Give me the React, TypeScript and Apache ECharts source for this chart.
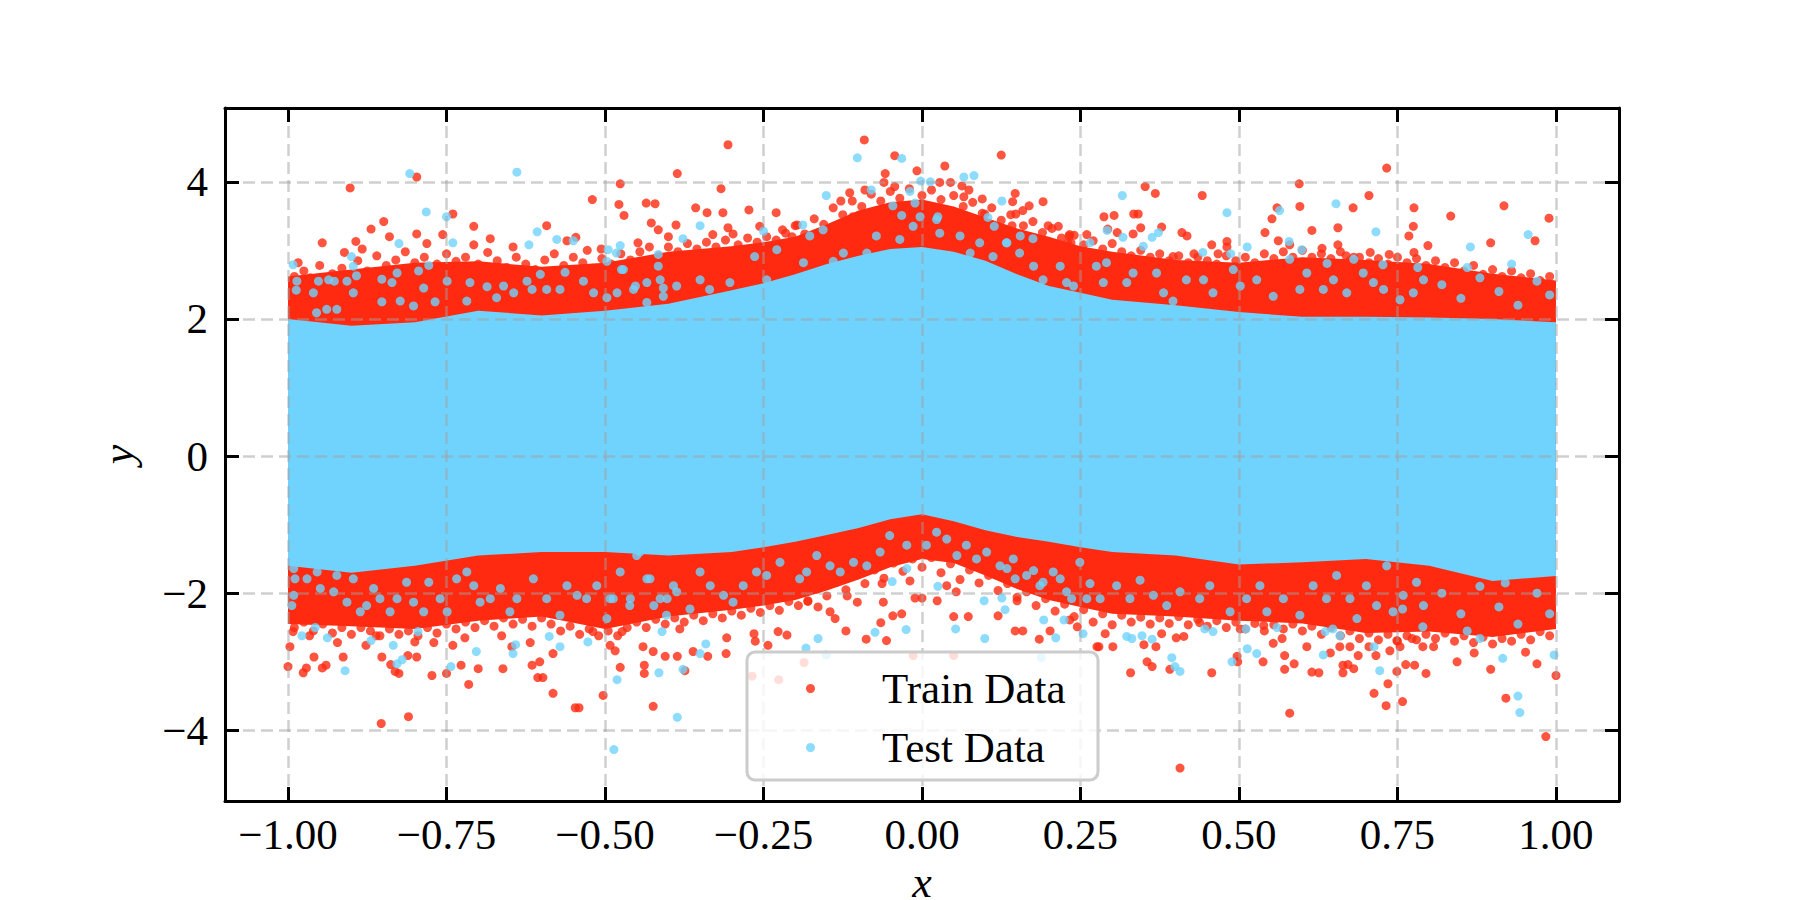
import { useEffect, useRef } from "react";
import * as echarts from "echarts";

const RED = "#ff2a10";
const BLUE = "#70d3fd";
const FONT = "Liberation Serif, Times New Roman, serif";

const xTicks = [-1, -0.75, -0.5, -0.25, 0, 0.25, 0.5, 0.75, 1];
const yTicks = [-4, -2, 0, 2, 4];

// envelopes of the dense cloud, read along x
const bandX = [-1, -0.9, -0.8, -0.7, -0.6, -0.5, -0.4, -0.3, -0.25, -0.2, -0.15, -0.1, -0.05, 0, 0.05, 0.1, 0.15, 0.2, 0.25, 0.3, 0.4, 0.5, 0.6, 0.7, 0.8, 0.9, 1];
const trainTop = [2.62, 2.72, 2.82, 2.84, 2.76, 2.82, 2.98, 3.06, 3.12, 3.2, 3.38, 3.58, 3.7, 3.74, 3.64, 3.48, 3.32, 3.2, 3.06, 2.98, 2.86, 2.82, 2.9, 2.86, 2.8, 2.66, 2.56];
const trainBottom = [-2.45, -2.48, -2.52, -2.4, -2.34, -2.52, -2.34, -2.24, -2.18, -2.1, -1.96, -1.8, -1.62, -1.5, -1.56, -1.74, -1.94, -2.1, -2.2, -2.3, -2.34, -2.4, -2.44, -2.58, -2.56, -2.64, -2.52];
const testTop = [2.0, 1.9, 1.95, 2.12, 2.05, 2.12, 2.22, 2.42, 2.52, 2.65, 2.8, 2.92, 3.02, 3.05, 2.98, 2.85, 2.65, 2.48, 2.38, 2.28, 2.2, 2.1, 2.03, 2.03, 2.02, 2.0, 1.95];
const testBottom = [-1.6, -1.7, -1.6, -1.45, -1.4, -1.4, -1.45, -1.4, -1.33, -1.25, -1.15, -1.05, -0.92, -0.85, -0.95, -1.08, -1.18, -1.25, -1.33, -1.4, -1.45, -1.58, -1.55, -1.5, -1.6, -1.82, -1.75];

// train points outside the dense band
const trainAbove = [
  [-0.902, 3.91], [-0.797, 4.07], [-0.74, 3.53], [-0.52, 3.74], [-0.476, 3.97], [-0.478, 3.67], [-0.47, 3.51],
  [-0.435, 3.69], [-0.421, 3.68], [-0.427, 3.4], [-0.416, 3.3], [-0.386, 4.12], [-0.388, 3.37], [-0.4, 3.2],
  [-0.869, 3.31], [-0.849, 3.42], [-0.84, 3.2], [-0.946, 3.11], [-0.893, 3.13], [-0.883, 3.02], [-0.911, 2.97],
  [-0.797, 3.24], [-0.781, 3.1], [-0.756, 3.23], [-0.707, 3.35], [-0.592, 3.36], [-0.546, 3.19], [-0.56, 3.14],
  [-0.681, 3.17], [-0.707, 3.08], [-0.645, 3.05], [-0.528, 3.0], [-0.506, 3.02], [-0.448, 3.11], [-0.984, 2.82],
  [-0.306, 4.54], [-0.317, 3.9], [-0.357, 3.62], [-0.339, 3.55], [-0.314, 3.55], [-0.273, 3.59], [-0.306, 3.33],
  [-0.298, 3.24], [-0.33, 3.23], [-0.23, 3.55], [-0.256, 3.35], [-0.22, 3.3], [-0.197, 3.37], [-0.205, 3.2],
  [-0.091, 4.61], [-0.043, 4.38], [-0.058, 4.12], [-0.008, 4.16], [0.036, 4.23], [0.125, 4.39], [-0.06, 3.99],
  [-0.043, 3.93], [-0.09, 3.88], [-0.114, 3.84], [-0.128, 3.72], [0.028, 3.99], [0.045, 3.99], [0.063, 3.94],
  [0.074, 3.88], [0.066, 3.78], [0.095, 3.75], [0.147, 3.83], [0.143, 3.71], [0.191, 3.71], [0.169, 3.65],
  [0.148, 3.53], [0.159, 3.58], [0.142, 3.36], [0.199, 3.36], [0.215, 3.35], [0.233, 3.23], [0.26, 3.23],
  [0.235, 3.11], [0.099, 3.53], [-0.109, 3.49], [-0.14, 3.27], [-0.131, 3.3], [-0.161, 3.05], [0.159, 3.16],
  [0.733, 4.2], [0.595, 3.97], [0.596, 3.64], [0.352, 3.93], [0.368, 3.83], [0.442, 3.8], [0.705, 3.8],
  [0.68, 3.62], [0.776, 3.62], [0.287, 3.49], [0.303, 3.51], [0.334, 3.53], [0.341, 3.53], [0.345, 3.33],
  [0.232, 3.21], [0.293, 3.31], [0.308, 3.26], [0.333, 3.24], [0.378, 3.34], [0.41, 3.26], [0.418, 3.21],
  [0.457, 3.08], [0.481, 3.13], [0.481, 3.05], [0.541, 3.26], [0.552, 3.46], [0.56, 3.62], [0.615, 3.29],
  [0.656, 3.33], [0.656, 3.08], [0.631, 3.03], [0.562, 3.14], [0.58, 3.08], [0.768, 3.21], [0.776, 2.97],
  [0.798, 3.07], [0.707, 2.97], [0.681, 2.9], [0.669, 2.92], [0.737, 2.94], [0.429, 2.95], [0.467, 2.95],
  [0.396, 2.91], [0.23, 3.11], [0.834, 3.5], [0.918, 3.65], [0.967, 3.14], [0.989, 3.47], [0.775, 3.35],
  [0.897, 3.11],
];
const trainBelow = [
  [-1.0, -3.07], [-0.997, -2.78], [-0.992, -2.56], [-0.976, -3.16], [-0.971, -3.09], [-0.959, -2.93],
  [-0.966, -2.62], [-0.946, -3.09], [-0.94, -3.05], [-0.922, -2.72], [-0.913, -2.93], [-0.877, -2.76],
  [-0.861, -2.62], [-0.852, -2.93], [-0.838, -3.04], [-0.831, -3.14], [-0.825, -3.17], [-0.811, -2.91],
  [-0.797, -2.93], [-0.8, -2.71], [-0.773, -3.2], [-0.77, -2.72], [-0.75, -3.17], [-0.74, -2.76],
  [-0.727, -3.05], [-0.715, -3.33], [-0.7, -3.1], [-0.721, -2.65], [-0.663, -2.62], [-0.661, -3.1],
  [-0.647, -2.78], [-0.618, -2.72], [-0.615, -3.05], [-0.603, -3.0], [-0.606, -3.23], [-0.598, -3.23],
  [-0.582, -3.46], [-0.582, -2.88], [-0.547, -3.67], [-0.541, -3.67], [-0.519, -2.56], [-0.503, -3.49],
  [-0.492, -2.76], [-0.484, -2.84], [-0.476, -3.08], [-0.44, -2.78], [-0.438, -3.05], [-0.438, -3.17],
  [-0.424, -2.85], [-0.405, -2.92], [-0.386, -2.92], [-0.424, -3.65], [-0.473, -2.56], [-0.853, -3.9],
  [-0.81, -3.8], [-0.374, -3.13], [-0.338, -2.92], [-0.309, -2.88], [-0.308, -2.65], [-0.361, -2.85],
  [-0.382, -2.52], [-0.265, -2.59], [-0.263, -2.7], [-0.227, -2.56], [-0.213, -2.61], [-0.243, -2.76],
  [-0.12, -2.55], [-0.088, -2.67], [-0.065, -2.43], [-0.056, -2.69], [-0.032, -2.3], [-0.019, -1.82],
  [-0.063, -1.86], [0.0, -2.07], [0.024, -2.11], [0.05, -2.34], [0.073, -2.34], [0.12, -2.33], [0.15, -2.11],
  [0.147, -2.55], [0.159, -2.55], [0.185, -2.67], [0.202, -2.55], [0.233, -2.39], [0.245, -2.49],
  [0.276, -2.78], [0.054, -1.98], [0.039, -1.89], [-0.18, -2.11], [-0.164, -2.2], [-0.145, -2.27],
  [-0.137, -2.37], [-0.118, -2.04], [-0.102, -2.13], [-0.061, -2.13], [-0.046, -2.33], [-0.011, -2.07],
  [-0.186, -3.01], [-0.268, -3.21], [-0.226, -3.26], [-0.014, -2.91], [0.05, -2.91], [0.279, -2.78],
  [0.289, -2.59], [0.301, -2.78], [0.329, -3.16], [0.355, -3.0], [0.363, -3.07], [0.35, -2.75], [0.369, -2.78],
  [0.391, -3.11], [0.378, -2.59], [0.401, -2.65], [0.413, -2.63], [0.457, -3.16], [0.438, -2.43],
  [0.497, -2.92], [0.538, -3.0], [0.502, -2.52], [0.539, -2.47], [0.554, -2.73], [0.568, -2.66],
  [0.572, -2.91], [0.587, -3.03], [0.572, -3.11], [0.607, -2.78], [0.615, -3.15], [0.626, -3.16],
  [0.644, -2.87], [0.659, -2.78], [0.675, -2.78], [0.664, -3.05], [0.672, -3.04], [0.681, -3.1],
  [0.688, -2.91], [0.664, -3.16], [0.705, -2.78], [0.716, -2.91], [0.713, -3.46], [0.735, -3.32],
  [0.732, -3.64], [0.749, -3.14], [0.758, -3.58], [0.763, -3.04], [0.777, -3.05], [0.738, -2.84],
  [0.754, -2.78], [0.795, -3.17], [0.79, -2.78], [0.773, -2.66], [0.749, -2.69], [0.407, -4.55],
  [0.58, -3.75], [0.498, -3.0], [0.921, -3.53], [0.984, -4.09], [1.0, -3.2], [0.97, -3.03], [0.844, -3.0],
  [0.897, -3.11], [0.871, -2.87], [0.952, -2.86], [0.807, -2.78],
];
// dense train dots along the outer rim of the band
const trainRimTop = [
  [-0.99, 2.62], [-0.975, 2.7], [-0.965, 2.6], [-0.95, 2.78], [-0.93, 2.66], [-0.915, 2.74], [-0.89, 2.85],
  [-0.875, 2.7], [-0.86, 2.92], [-0.845, 2.78], [-0.83, 2.86], [-0.815, 2.98], [-0.8, 2.82], [-0.785, 2.9],
  [-0.765, 2.8], [-0.75, 2.95], [-0.735, 2.84], [-0.72, 2.9], [-0.7, 2.8], [-0.685, 2.97], [-0.67, 2.85],
  [-0.655, 2.75], [-0.64, 2.9], [-0.625, 2.8], [-0.61, 2.72], [-0.595, 2.86], [-0.58, 2.95], [-0.565, 2.78],
  [-0.55, 2.9], [-0.535, 2.82], [-0.52, 2.74], [-0.505, 2.88], [-0.49, 2.8], [-0.475, 2.95], [-0.46, 2.86],
  [-0.445, 2.98], [-0.43, 3.05], [-0.415, 2.92], [-0.4, 3.05], [-0.385, 2.98], [-0.37, 3.1], [-0.355, 3.02],
  [-0.34, 3.12], [-0.325, 3.05], [-0.31, 3.15], [-0.29, 3.08], [-0.275, 3.18], [-0.26, 3.12], [-0.245, 3.2],
  [-0.23, 3.15], [-0.215, 3.25], [-0.2, 3.36], [-0.185, 3.24], [-0.17, 3.46], [-0.155, 3.38], [-0.14, 3.62],
  [-0.125, 3.52], [-0.11, 3.72], [-0.095, 3.64], [-0.08, 3.82], [-0.065, 3.72], [-0.05, 3.86], [-0.035, 3.76],
  [-0.02, 3.9], [0.0, 3.8], [0.015, 3.88], [0.03, 3.74], [0.05, 3.8], [0.065, 3.64], [0.08, 3.7], [0.095, 3.54],
  [0.11, 3.62], [0.125, 3.44], [0.14, 3.52], [0.16, 3.36], [0.175, 3.42], [0.19, 3.26], [0.205, 3.32], [0.22, 3.18],
  [0.24, 3.22], [0.255, 3.08], [0.27, 3.14], [0.285, 3.02], [0.3, 3.1], [0.315, 2.98], [0.33, 2.92], [0.345, 3.0],
  [0.36, 2.9], [0.375, 2.95], [0.39, 2.85], [0.405, 2.92], [0.42, 2.82], [0.435, 2.9], [0.45, 2.85], [0.465, 2.8],
  [0.48, 2.92], [0.495, 2.85], [0.51, 2.9], [0.525, 2.82], [0.54, 2.95], [0.555, 2.88], [0.57, 2.98], [0.585, 2.9],
  [0.6, 3.0], [0.615, 2.9], [0.63, 2.95], [0.645, 2.88], [0.66, 2.98], [0.675, 2.85], [0.69, 2.9], [0.705, 2.82],
  [0.72, 2.88], [0.735, 2.8], [0.75, 2.9], [0.765, 2.82], [0.78, 2.88], [0.795, 2.78], [0.81, 2.85], [0.825, 2.75],
  [0.84, 2.82], [0.855, 2.7], [0.87, 2.78], [0.885, 2.65], [0.9, 2.72], [0.915, 2.62], [0.93, 2.7], [0.945, 2.6],
  [0.96, 2.66], [0.975, 2.56], [0.99, 2.62],
];
const trainRimBottom = [
  [-0.99, -2.5], [-0.975, -2.42], [-0.96, -2.55], [-0.945, -2.45], [-0.93, -2.58], [-0.915, -2.5], [-0.9, -2.6],
  [-0.885, -2.5], [-0.87, -2.55], [-0.855, -2.62], [-0.84, -2.52], [-0.825, -2.6], [-0.81, -2.55], [-0.795, -2.62],
  [-0.78, -2.5], [-0.765, -2.58], [-0.75, -2.45], [-0.735, -2.52], [-0.72, -2.42], [-0.705, -2.5], [-0.69, -2.4],
  [-0.675, -2.48], [-0.66, -2.36], [-0.645, -2.45], [-0.63, -2.38], [-0.615, -2.48], [-0.6, -2.36], [-0.585, -2.45],
  [-0.57, -2.55], [-0.555, -2.48], [-0.54, -2.6], [-0.525, -2.52], [-0.51, -2.62], [-0.495, -2.55], [-0.48, -2.62],
  [-0.465, -2.5], [-0.45, -2.42], [-0.435, -2.5], [-0.42, -2.38], [-0.405, -2.45], [-0.39, -2.36], [-0.375, -2.42],
  [-0.36, -2.32], [-0.345, -2.4], [-0.33, -2.3], [-0.315, -2.36], [-0.3, -2.26], [-0.285, -2.32], [-0.27, -2.22],
  [-0.255, -2.28], [-0.24, -2.18], [-0.225, -2.25], [-0.21, -2.12], [-0.195, -2.18], [-0.18, -2.12], [-0.165, -1.94],
  [-0.15, -2.04], [-0.135, -1.84], [-0.12, -1.95], [-0.105, -1.74], [-0.09, -1.86], [-0.075, -1.66], [-0.06, -1.78],
  [-0.045, -1.56], [-0.03, -1.68], [-0.015, -1.5], [0.0, -1.62], [0.015, -1.48], [0.03, -1.7], [0.045, -1.57],
  [0.06, -1.8], [0.075, -1.66], [0.09, -1.85], [0.105, -1.74], [0.12, -1.96], [0.135, -1.86], [0.15, -2.06],
  [0.165, -1.98], [0.18, -2.18], [0.195, -2.08], [0.21, -2.26], [0.225, -2.16], [0.24, -2.34], [0.255, -2.24],
  [0.27, -2.42], [0.285, -2.3], [0.3, -2.46], [0.315, -2.32], [0.33, -2.42], [0.345, -2.35], [0.36, -2.45],
  [0.375, -2.36], [0.39, -2.44], [0.405, -2.34], [0.42, -2.46], [0.435, -2.38], [0.45, -2.48], [0.465, -2.4],
  [0.48, -2.5], [0.495, -2.42], [0.51, -2.52], [0.525, -2.44], [0.54, -2.55], [0.555, -2.46], [0.57, -2.52],
  [0.585, -2.45], [0.6, -2.55], [0.615, -2.48], [0.63, -2.6], [0.645, -2.5], [0.66, -2.62], [0.675, -2.55],
  [0.69, -2.66], [0.705, -2.58], [0.72, -2.68], [0.735, -2.6], [0.75, -2.7], [0.765, -2.62], [0.78, -2.68],
  [0.795, -2.6], [0.81, -2.66], [0.825, -2.58], [0.84, -2.7], [0.855, -2.62], [0.87, -2.72], [0.885, -2.64],
  [0.9, -2.74], [0.915, -2.66], [0.93, -2.7], [0.945, -2.6], [0.96, -2.68], [0.975, -2.56], [0.99, -2.62],
];

// test points outside the band and inside the mixed red/blue rim
const testOutside = [
  [-0.808, 4.12], [-0.639, 4.14], [-0.782, 3.56], [-0.75, 3.49], [-0.74, 3.11], [-0.825, 3.1], [-0.9, 2.91],
  [-0.607, 3.27], [-0.62, 3.08], [-0.576, 3.16], [-0.55, 3.14], [-0.416, 2.94], [-0.476, 3.07], [-0.992, 2.79],
  [-0.495, 3.01], [-0.102, 4.35], [-0.032, 4.34], [0.082, 4.09], [0.066, 4.07], [0.013, 4.0], [-0.002, 4.01],
  [-0.151, 3.8], [-0.08, 3.88], [0.126, 3.72], [-0.35, 3.36], [-0.156, 3.3], [-0.188, 3.37], [0.175, 3.17],
  [0.114, 3.35], [0.104, 3.48], [-0.377, 3.17], [-0.019, 3.86], [-0.046, 3.65], [-0.011, 3.69], [-0.032, 3.51],
  [-0.003, 3.49], [0.025, 3.49], [0.316, 3.8], [0.481, 3.55], [0.564, 3.58], [0.653, 3.68], [0.716, 3.27],
  [0.513, 3.05], [0.292, 3.29], [0.363, 3.19], [0.373, 3.26], [0.317, 3.19], [0.681, 2.87], [0.579, 3.13],
  [0.599, 3.01], [0.782, 2.75], [0.443, 2.97], [0.487, 2.95], [0.639, 2.81], [0.727, 2.79], [0.956, 3.23],
  [0.865, 3.05], [-0.978, -2.62], [-0.957, -2.5], [-0.938, -2.65], [-0.91, -3.13], [-0.869, -2.69],
  [-0.834, -2.76], [-0.828, -3.03], [-0.82, -2.97], [-0.795, -2.56], [-0.743, -3.07], [-0.703, -2.85],
  [-0.645, -2.88], [-0.641, -2.75], [-0.571, -2.78], [-0.588, -2.63], [-0.527, -2.71], [-0.481, -3.26],
  [-0.415, -3.16], [-0.41, -2.56], [-0.486, -4.28], [-0.386, -3.81], [-0.377, -3.11], [-0.35, -2.88],
  [-0.341, -2.74], [-0.183, -2.8], [-0.164, -2.66], [-0.074, -2.57], [-0.025, -2.53], [-0.047, -1.83],
  [-0.024, -1.64], [0.025, -1.9], [0.053, -2.52], [0.099, -2.66], [0.098, -2.11], [0.126, -2.07],
  [0.131, -2.24], [0.192, -2.39], [0.211, -2.65], [0.224, -2.39], [0.254, -2.59], [-0.151, -2.9],
  [0.188, -2.94], [0.323, -2.63], [0.331, -2.66], [0.347, -2.62], [0.363, -2.67], [0.394, -2.94],
  [0.399, -3.07], [0.407, -3.14], [0.446, -2.52], [0.459, -2.56], [0.489, -3.0], [0.513, -2.81],
  [0.528, -2.88], [0.511, -2.52], [0.56, -2.5], [0.633, -2.9], [0.636, -2.56], [0.648, -2.52], [0.659, -2.62],
  [0.713, -2.78], [0.722, -3.13], [0.79, -2.49], [0.758, -2.23], [0.94, -3.5], [0.943, -3.74], [0.997, -2.9],
  [0.916, -2.95], [0.88, -2.66],
];
const testRimTop = [
  [-0.986, 2.55], [-0.987, 2.42], [-0.96, 2.38], [-0.952, 2.55], [-0.936, 2.57], [-0.927, 2.55], [-0.955, 2.09],
  [-0.939, 2.14], [-0.923, 2.14], [-0.907, 2.55], [-0.897, 2.38], [-0.892, 2.63], [-0.897, 2.77], [-0.852, 2.58],
  [-0.836, 2.53], [-0.852, 2.25], [-0.828, 2.67], [-0.823, 2.26], [-0.802, 2.19], [-0.778, 2.78], [-0.794, 2.7],
  [-0.786, 2.45], [-0.768, 2.25], [-0.749, 2.55], [-0.718, 2.26], [-0.713, 2.53], [-0.686, 2.47], [-0.671, 2.31],
  [-0.66, 2.48], [-0.644, 2.38], [-0.623, 2.55], [-0.615, 2.43], [-0.602, 2.65], [-0.592, 2.43], [-0.571, 2.43],
  [-0.563, 2.68], [-0.534, 2.55], [-0.518, 2.38], [-0.497, 2.31], [-0.481, 2.38], [-0.471, 2.72], [-0.452, 2.48],
  [-0.434, 2.24], [-0.408, 2.45], [-0.392, 2.14], [-0.413, 2.57], [-0.497, 2.84], [-0.482, 2.96], [-0.474, 2.72],
  [-0.455, 2.43], [-0.434, 2.53], [-0.416, 2.77], [-0.408, 2.33], [-0.387, 2.48], [-0.35, 2.57], [-0.335, 2.43],
  [-0.303, 2.53], [-0.287, 2.33], [-0.264, 2.91], [-0.25, 3.28], [-0.245, 2.57], [-0.229, 3.01], [-0.214, 2.38],
  [-0.187, 2.82], [-0.177, 3.21], [-0.172, 2.53], [-0.14, 2.84], [-0.124, 2.96], [-0.108, 2.62], [-0.087, 2.96],
  [-0.072, 3.21], [-0.056, 2.87], [-0.035, 3.16], [-0.014, 3.35], [0.023, 3.45], [0.028, 3.25], [0.06, 3.21],
  [0.076, 2.96], [0.091, 3.11], [0.112, 2.91], [0.133, 3.11], [0.154, 2.96], [0.176, 2.77], [0.191, 2.57],
  [0.218, 2.77], [0.239, 2.48], [0.265, 3.11], [0.134, 3.11], [0.155, 3.21], [0.228, 2.53], [0.275, 2.77],
  [0.286, 2.53], [0.291, 2.82], [0.323, 2.53], [0.333, 2.67], [0.349, 3.06], [0.37, 2.67], [0.381, 2.38],
  [0.396, 2.26], [0.417, 2.57], [0.444, 2.57], [0.459, 2.38], [0.491, 2.72], [0.502, 2.48], [0.528, 2.57],
  [0.554, 2.33], [0.58, 2.87], [0.596, 2.43], [0.607, 2.67], [0.633, 2.43], [0.649, 2.57], [0.67, 2.38],
  [0.696, 2.67], [0.712, 2.53], [0.728, 2.43], [0.754, 2.28], [0.775, 2.38], [0.791, 2.57], [0.82, 2.5],
  [0.85, 2.3], [0.88, 2.6], [0.91, 2.4], [0.94, 2.2], [0.97, 2.55], [0.99, 2.35], [0.86, 2.75], [0.93, 2.8],
];
const testRimBottom = [
  [-0.991, -1.64], [-0.989, -1.79], [-0.991, -2.03], [-0.994, -2.18], [-0.97, -1.79], [-0.954, -1.69],
  [-0.939, -1.55], [-0.949, -1.93], [-0.928, -1.98], [-0.923, -1.74], [-0.907, -2.13], [-0.897, -1.79],
  [-0.886, -2.27], [-0.876, -2.18], [-0.865, -1.93], [-0.855, -2.08], [-0.839, -2.27], [-0.828, -2.08],
  [-0.813, -1.84], [-0.802, -2.13], [-0.786, -2.27], [-0.778, -1.84], [-0.76, -2.08], [-0.749, -2.27],
  [-0.734, -1.79], [-0.718, -1.69], [-0.707, -1.89], [-0.697, -2.13], [-0.681, -2.08], [-0.665, -1.93],
  [-0.65, -2.27], [-0.639, -2.08], [-0.613, -1.79], [-0.592, -2.08], [-0.571, -2.32], [-0.56, -1.89],
  [-0.544, -2.03], [-0.529, -2.08], [-0.513, -1.89], [-0.497, -2.37], [-0.487, -2.08], [-0.476, -1.69],
  [-0.46, -2.08], [-0.45, -1.45], [-0.434, -1.79], [-0.423, -2.18], [-0.402, -2.08], [-0.392, -1.89],
  [-0.492, -2.08], [-0.461, -2.18], [-0.445, -1.4], [-0.429, -1.79],
  [-0.413, -2.08], [-0.403, -2.32], [-0.387, -1.98], [-0.366, -2.23], [-0.35, -1.69], [-0.334, -1.89],
  [-0.313, -2.03], [-0.298, -2.13], [-0.282, -1.89], [-0.261, -1.69], [-0.245, -1.74], [-0.224, -1.55],
  [-0.193, -1.79], [-0.182, -1.69], [-0.166, -1.45], [-0.145, -1.6], [-0.129, -1.69], [-0.108, -1.55],
  [-0.087, -1.6], [-0.066, -1.4], [-0.051, -1.16], [-0.024, -1.3], [0.007, -1.3], [0.023, -1.11],
  [0.039, -1.21], [0.055, -1.45], [0.07, -1.3], [0.086, -1.5], [0.102, -1.4], [0.123, -1.6], [0.144, -1.5],
  [0.165, -1.74], [0.186, -1.89], [0.207, -1.69], [0.228, -1.98], [0.249, -1.55], [0.26, -2.08],
  [0.134, -1.64], [0.147, -1.79], [0.176, -1.67], [0.191, -1.84], [0.218, -1.79], [0.236, -2.08],
  [0.265, -1.86], [0.281, -2.08], [0.307, -1.89], [0.328, -2.08], [0.344, -1.81], [0.365, -2.03],
  [0.386, -2.18], [0.407, -1.98], [0.438, -2.08], [0.454, -1.89], [0.486, -2.27], [0.512, -2.08],
  [0.533, -1.89], [0.544, -2.27], [0.57, -2.08], [0.596, -2.32], [0.617, -1.89], [0.638, -2.08],
  [0.654, -1.74], [0.675, -2.08], [0.686, -2.37], [0.701, -1.89], [0.717, -2.18], [0.733, -1.6],
  [0.743, -2.27], [0.759, -2.03], [0.78, -1.84], [0.791, -2.18], [0.82, -2.0], [0.85, -2.3], [0.88, -1.9],
  [0.91, -2.2], [0.94, -2.45], [0.97, -2.0], [0.99, -2.3], [0.86, -2.55], [0.92, -1.85],
];

const minus = (s: string) => s.replace("-", "\u2212");

function band(upper: number[], lower: number[], color: string) {
  return (_params: any, api: any) => {
    const points: number[][] = [];
    for (let i = 0; i < bandX.length; i++) points.push(api.coord([bandX[i], upper[i]]));
    for (let i = bandX.length - 1; i >= 0; i--) points.push(api.coord([bandX[i], lower[i]]));
    return { type: "polygon", shape: { points }, style: { fill: color } };
  };
}

const tickStyle = { inside: true, length: 14, lineStyle: { color: "#000", width: 3 } };
const lineStyle = { show: true, onZero: false, lineStyle: { color: "#000", width: 3 } };
const gridLine = { show: true, lineStyle: { color: "rgba(160,160,160,0.5)", width: 2.5, type: [12, 6] as number[] } };

function buildOption(): echarts.EChartsOption {
  const xRange = { type: "value" as const, min: -1.0994, max: 1.0994 };
  const yRange = { type: "value" as const, min: -5.03, max: 5.076 };
  return {
    animation: false,
    backgroundColor: "#fff",
    grid: { left: 225, right: 181, top: 108, bottom: 99, containLabel: false, outerBoundsMode: "none" } as any,
    xAxis: [
      {
        ...xRange,
        position: "bottom",
        z: 10,
        name: "x",
        nameLocation: "middle",
        nameGap: 64,
        nameTextStyle: { fontFamily: FONT, fontSize: 44, lineHeight: 30, fontStyle: "italic", color: "#000" },
        axisLine: lineStyle,
        axisTick: { ...tickStyle, customValues: xTicks },
        axisLabel: {
          customValues: xTicks,
          margin: 12,
          fontFamily: FONT,
          fontSize: 43,
          color: "#000",
          formatter: (v: number) => minus(v.toFixed(2)),
        },
        splitLine: gridLine,
      },
      {
        ...xRange,
        position: "top",
        z: 10,
        axisLine: lineStyle,
        axisTick: { ...tickStyle, customValues: xTicks },
        axisLabel: { show: false },
        splitLine: { show: false },
      },
    ],
    yAxis: [
      {
        ...yRange,
        position: "left",
        z: 10,
        name: "y",
        nameLocation: "middle",
        nameGap: 85,
        nameRotate: 90,
        nameTextStyle: { fontFamily: FONT, fontSize: 44, fontStyle: "italic", color: "#000" },
        axisLine: lineStyle,
        axisTick: { ...tickStyle, customValues: yTicks },
        axisLabel: {
          customValues: yTicks,
          margin: 17,
          fontFamily: FONT,
          fontSize: 43,
          color: "#000",
          formatter: (v: number) => minus(String(v)),
        },
        splitLine: gridLine,
      },
      {
        ...yRange,
        position: "right",
        z: 10,
        axisLine: lineStyle,
        axisTick: { ...tickStyle, customValues: yTicks },
        axisLabel: { show: false },
        splitLine: { show: false },
      },
    ],
    legend: {
      data: ["Train Data", "Test Data"],
      orient: "vertical",
      left: 801,
      top: 662,
      icon: "circle",
      itemWidth: 9,
      itemHeight: 9,
      itemGap: 16,
      z: 21,
      textStyle: { fontFamily: FONT, fontSize: 43, lineHeight: 42, color: "#000", padding: [0, 0, 0, 62] },
    },
    graphic: [
      {
        type: "rect",
        z: 20,
        shape: { x: 747, y: 652, width: 351, height: 128, r: 8 },
        style: { fill: "rgba(255,255,255,0.8)", stroke: "#cccccc", lineWidth: 3 },
      },
    ],
    series: [
      { type: "custom", renderItem: band(trainTop, trainBottom, RED) as any, data: [[0, 0]], z: 1, silent: true },
      {
        name: "Train Data",
        type: "scatter",
        symbolSize: 9,
        itemStyle: { color: RED },
        data: [...trainRimTop, ...trainRimBottom, ...trainAbove, ...trainBelow],
        z: 2,
      },
      { type: "custom", renderItem: band(testTop, testBottom, BLUE) as any, data: [[0, 0]], z: 3, silent: true },
      {
        name: "Test Data",
        type: "scatter",
        symbolSize: 9,
        itemStyle: { color: BLUE },
        data: [...testOutside, ...testRimTop, ...testRimBottom],
        z: 4,
      },
    ],
  };
}

export default function App() {
  const chartRef = useRef<HTMLDivElement>(null);

  useEffect(() => {
    if (!chartRef.current) return;
    const chart = echarts.init(chartRef.current, undefined, { renderer: "svg" });
    chart.setOption(buildOption());
    return () => chart.dispose();
  }, []);

  return <div ref={chartRef} style={{ position: "absolute", left: 0, top: 0, width: 1800, height: 900 }} />;
}
